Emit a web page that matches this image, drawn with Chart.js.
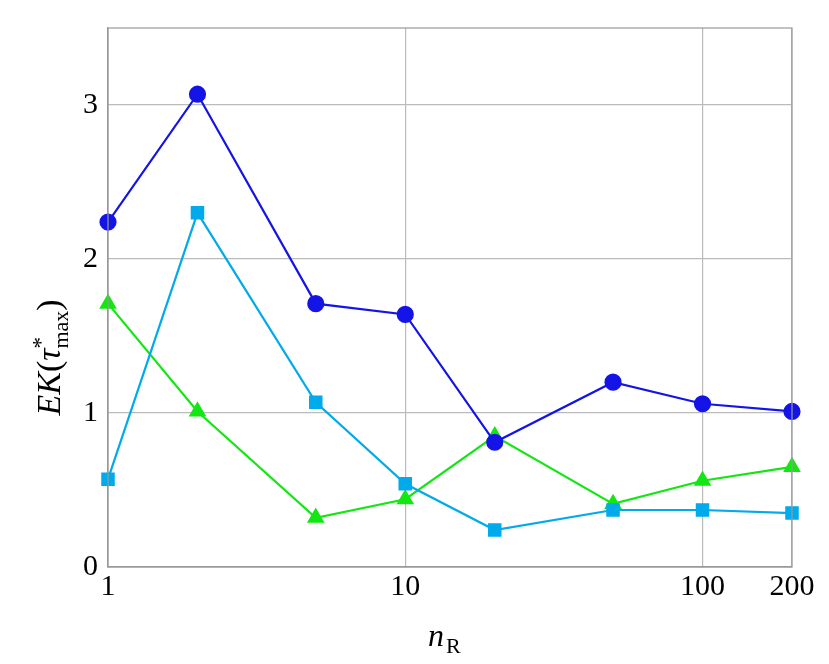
<!DOCTYPE html>
<html><head><meta charset="utf-8">
<script src="https://cdn.jsdelivr.net/npm/chart.js@4"></script>
<style>html,body{margin:0;padding:0;background:#fff}#w{width:829px;height:664px}</style>
</head><body><div id="w"><canvas id="c"></canvas></div>
<script>
const nR = [1, 2, 5, 10, 20, 50, 100, 200];
const blueCircles = [2.24, 3.07, 1.71, 1.64, 0.81, 1.20, 1.06, 1.01];
const cyanSquares = [0.57, 2.30, 1.07, 0.54, 0.24, 0.37, 0.37, 0.35];
const greenTriangles = [1.71, 1.01, 0.32, 0.44, 0.85, 0.41, 0.56, 0.65];
const xTickLabels = [1, 10, 100, 200];
const yTickLabels = [0, 1, 2, 3];

const pts = a => nR.map((x, i) => ({x, y: a[i]}));
const serif = "'Liberation Serif','DejaVu Serif',serif";
const ds = (data, color, style, r) => ({data: pts(data), borderColor: color, backgroundColor: color,
  pointStyle: style, pointRadius: r, pointHoverRadius: r, borderWidth: 2.2, clip: false});

const labels = {
  id: 'labels',
  afterDraw(ch) {
    const c = ch.ctx, a = ch.chartArea;
    c.save(); c.fillStyle = '#000';
    c.font = 'italic 32px ' + serif; c.textBaseline = 'alphabetic';
    c.fillText('n', 428, 646);
    c.font = '22px ' + serif; c.fillText('R', 446, 653);
    c.translate(48, (a.top + a.bottom) / 2); c.rotate(-Math.PI / 2);
    c.textAlign = 'left';
    let x = -118;
    const put = (t, f, dy) => { c.font = f; c.fillText(t, x, dy); x += c.measureText(t).width; };
    put('EK', 'italic 34px ' + serif, 12);
    put('(', '34px ' + serif, 12);
    put('τ', 'italic 34px ' + serif, 12);
    const sx = x;
    put('*', '23px ' + serif, 0);
    x = sx; put('max', '22px ' + serif, 20);
    put(')', '34px ' + serif, 12);
    c.restore();
  }
};

new Chart(document.getElementById('c'), {
  type: 'line',
  data: {datasets: [
    ds(blueCircles, 'rgb(20,20,230)', 'circle', 7.5),
    ds(cyanSquares, 'rgb(0,170,235)', 'rect', 8),
    ds(greenTriangles, 'rgb(20,230,20)', 'triangle', 8)
  ]},
  options: {
    responsive: true, maintainAspectRatio: false, animation: false,
    layout: {padding: {top: -22, right: 37, left: 0, bottom: 0}},
    plugins: {legend: {display: false}, tooltip: {enabled: false}},
    scales: {
      x: {type: 'logarithmic', min: 1, max: 200,
        afterBuildTicks: s => { s.ticks = xTickLabels.map(v => ({value: v})); },
        afterFit: s => { s.height = 97; },
        ticks: {callback: v => String(v), color: '#000', font: {family: serif, size: 30}, padding: 2, maxRotation: 0, autoSkip: false},
        grid: {color: '#bbb', lineWidth: 1.2, tickLength: 0},
        border: {color: '#999', width: 1.2}},
      y: {min: 0, max: 3.5,
        afterBuildTicks: s => { s.ticks = yTickLabels.map(v => ({value: v})); },
        afterFit: s => { s.width = 108; },
        ticks: {color: '#000', font: {family: serif, size: 30}, padding: 10},
        grid: {color: '#bbb', lineWidth: 1.2, tickLength: 0},
        border: {color: '#999', width: 1.2}}
    }
  },
  plugins: [labels, {id: 'frame', afterDraw(ch) {
    const c = ch.ctx, a = ch.chartArea; c.save(); c.strokeStyle = '#999'; c.lineWidth = 1.2;
    c.strokeRect(a.left, a.top, a.right - a.left, a.bottom - a.top); c.restore(); }}]
});
</script></body></html>
